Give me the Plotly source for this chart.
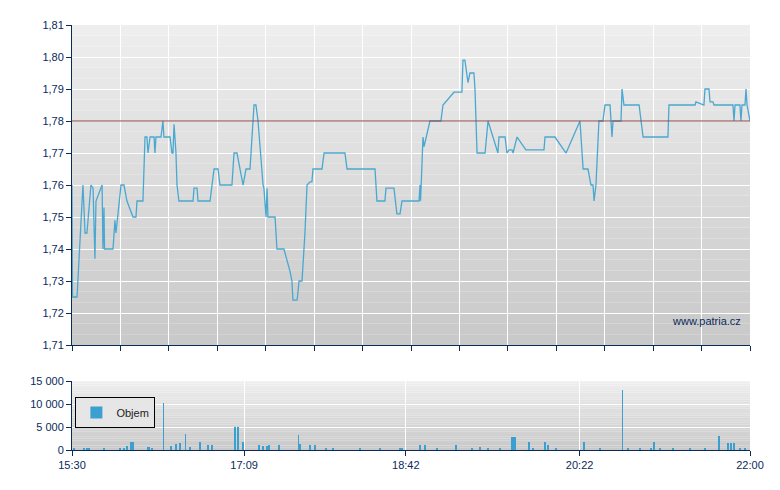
import plotly.graph_objects as go

# price: minutes since 15:30, price
t_price = [0, 0.3, 2.9, 6.3, 7.5, 8.6, 10.9, 12.1, 13.2, 13.8, 17.3, 17.8, 18.4, 18.7, 23.6, 24.7, 25.3,
           28.2, 29.9, 31.6, 35.1, 36.8, 37.4, 40.8, 42.0, 43.1, 43.7, 44.9, 47.2, 47.7, 48.3, 51.2, 52.3,
           52.9, 56.4, 57.5, 58.1, 58.7, 59.8, 60.4, 61.5, 65.0, 69.6, 70.2, 71.9, 72.5, 79.4, 81.7, 84.0,
           85.1, 92.0, 93.2, 94.9, 98.4, 100.1, 102.4, 104.7, 105.8, 107.0, 109.9, 110.4, 111.6, 112.2,
           112.7, 116.8, 117.9, 121.9, 125.4, 126.5, 127.1, 129.4, 129.7, 130.6, 132.3, 134.0, 135.2,
           136.9, 138.0, 138.6, 143.8, 145.0, 157.0, 158.2, 174.3, 175.4, 180.0, 180.6, 185.2, 186.9,
           188.7, 189.8, 199.6, 200.2, 200.5, 201.9, 202.5, 205.9, 212.2, 213.4, 219.7, 224.3, 224.9,
           226.0, 227.8, 228.9, 231.2, 231.8, 233.0, 237.6, 239.3, 245.0, 245.6, 249.1, 250.2, 251.4,
           253.1, 253.7, 256.0, 261.1, 271.5, 272.1, 277.8, 284.2, 292.2, 294.0, 296.8, 298.5, 299.7,
           300.3, 301.4, 303.1, 305.4, 306.6, 309.5, 310.6, 311.2, 315.8, 316.4, 317.5, 326.2, 327.3,
           328.5, 342.8, 343.4, 358.4, 358.9, 363.5, 364.1, 366.4, 367.0, 368.7, 369.3, 380.2, 380.8,
           381.4, 384.2, 384.8, 385.4, 387.1, 387.7, 388.3, 390]
price = [1.76, 1.725, 1.725, 1.76, 1.745, 1.745, 1.76, 1.759, 1.737, 1.755, 1.76, 1.74, 1.753, 1.74, 1.74, 1.749, 1.745,
         1.76, 1.76, 1.755, 1.75, 1.75, 1.755, 1.755, 1.775, 1.775, 1.77, 1.775, 1.775, 1.77, 1.775, 1.775, 1.78,
         1.775, 1.775, 1.77, 1.77, 1.779, 1.77, 1.76, 1.755, 1.755, 1.755, 1.759, 1.759, 1.755, 1.755, 1.765, 1.765,
         1.76, 1.76, 1.77, 1.77, 1.76, 1.765, 1.765, 1.785, 1.785, 1.78, 1.76, 1.759, 1.75, 1.759,
         1.75, 1.75, 1.74, 1.74, 1.733, 1.73, 1.724, 1.724, 1.725, 1.73, 1.73, 1.745, 1.76,
         1.761, 1.761, 1.765, 1.765, 1.77, 1.77, 1.765, 1.765, 1.755, 1.755, 1.759, 1.759, 1.751,
         1.751, 1.755, 1.755, 1.76, 1.755, 1.775, 1.772, 1.78, 1.78, 1.785, 1.789, 1.789, 1.799,
         1.799, 1.792, 1.795, 1.795, 1.79, 1.77, 1.77, 1.78, 1.77, 1.775, 1.775, 1.77, 1.771,
         1.771, 1.77, 1.775, 1.771, 1.771, 1.775, 1.775, 1.77, 1.78, 1.765, 1.765, 1.76, 1.76,
         1.755, 1.76, 1.78, 1.78, 1.785, 1.785, 1.775, 1.78, 1.78, 1.79, 1.785, 1.785, 1.78,
         1.775, 1.775, 1.785, 1.785, 1.786, 1.785, 1.79, 1.79, 1.786, 1.786, 1.785, 1.785, 1.78,
         1.785, 1.785, 1.78, 1.785, 1.785, 1.79, 1.785, 1.78]

t_vol = [52.6, 316.7, 93.8, 95.5, 65.3, 130.3, 253.1, 253.9, 254.8, 372.2, 377.3, 379.1, 380.8, 34.0, 35.1,
         73.6, 62.1, 98.4, 113.3, 119.1, 136.9, 139.8, 262.9, 272.0, 273.8, 294.5, 334.8, 333.1, 221.0,
         200.2, 203.0, 78.2, 44.3, 46.0, 6.9, 8.6, 9.8, 18.4, 27.6, 29.9, 31.6, 43.7, 56.9, 59.8, 67.9,
         80.5, 107.6, 109.9, 112.2, 131.1, 146.1, 165.7, 177.2, 188.7, 210.0, 234.7, 239.3, 246.2, 278.4,
         303.7, 326.7, 338.2, 345.7, 355.5, 364.1, 384.2, 387.1, 1.0, 150.0, 190.0, 230.0, 265.0, 320.0]
volume = [10200, 13100, 5000, 5000, 3500, 3300, 2700, 2700, 2700, 3100, 1600, 1600, 1600, 1800, 1800,
          1800, 1400, 1800, 1100, 1100, 1100, 1100, 1800, 1800, 1100, 1800, 1800, 500, 1000,
          1100, 1100, 1100, 600, 400, 500, 500, 500, 300, 400, 400, 800, 700, 800, 1300, 600,
          1000, 1000, 900, 800, 1200, 300, 300, 300, 300, 300, 600, 500, 300, 400,
          300, 400, 400, 400, 400, 400, 500, 400, 400, 300, 300, 400, 300, 300]

x_ticks = [0, 99, 192, 292, 390]
x_labels = ["15:30", "17:09", "18:42", "20:22", "22:00"]
ref_price = 1.78

fig = go.Figure()
fig.add_trace(go.Scatter(x=t_price, y=price, mode="lines", line=dict(color="#4aa8d0", width=1.3),
                         showlegend=False, xaxis="x", yaxis="y"))
fig.add_trace(go.Bar(x=t_vol, y=volume, name="Objem", marker=dict(color="#3b9fcf", line_width=0),
                     width=0.45, xaxis="x2", yaxis="y2"))

# gradient background bands
shapes = []
n = 30
for ax, yd in (("x", "y"), ("x2", "y2")):
    for i in range(n):
        g = int(200 + 38 * (i + 1) / n)
        shapes.append(dict(type="rect", xref=ax + " domain", yref=yd + " domain", layer="below",
                           x0=0, x1=1, y0=i / n, y1=(i + 1) / n, line_width=0,
                           fillcolor=f"rgb({g},{g},{g})"))
shapes.append(dict(type="line", xref="x domain", yref="y", x0=0, x1=1, y0=ref_price, y1=ref_price,
                   line=dict(color="#8a4444", width=1)))

axcol = "#0a2a5a"
grid = dict(showgrid=True, gridcolor="white", gridwidth=1.2, zeroline=False, showline=True,
            linecolor=axcol, ticks="outside", ticklen=5, tickcolor=axcol,
            tickfont=dict(family="Liberation Sans", size=11, color=axcol))

fig.update_layout(
    width=780, height=490, margin=dict(l=64, r=38, t=17, b=48),
    paper_bgcolor="white", plot_bgcolor="rgba(0,0,0,0)", separators=", ",
    shapes=shapes, bargap=0,
    xaxis=dict(grid, domain=[0, 1], range=[0, 390], tick0=0, dtick=390 / 14, showticklabels=False,
               anchor="y"),
    yaxis=dict(grid, domain=[0.247, 1], range=[1.71, 1.81], dtick=0.01, tickformat=".2f", anchor="x"),
    xaxis2=dict(grid, domain=[0, 1], range=[0, 390], tickvals=x_ticks, ticktext=x_labels, anchor="y2"),
    yaxis2=dict(grid, domain=[0, 0.162], range=[0, 15000], tickvals=[0, 5000, 10000, 15000],
                tickformat=",d", anchor="x2"),
    legend=dict(x=0.005, y=0.125, xanchor="left", yanchor="top", bgcolor="#e6e6e6", bordercolor="black",
                borderwidth=1, itemwidth=30, tracegroupgap=0,
                font=dict(family="Liberation Sans", size=11, color="#222")),
    annotations=[dict(text="www.patria.cz", xref="x domain", yref="y domain", x=0.99, y=0.05,
                      xanchor="right", yanchor="bottom", showarrow=False,
                      font=dict(family="Liberation Sans", size=11, color="#0a2a5a"))],
)
fig.write_html("out.html")
